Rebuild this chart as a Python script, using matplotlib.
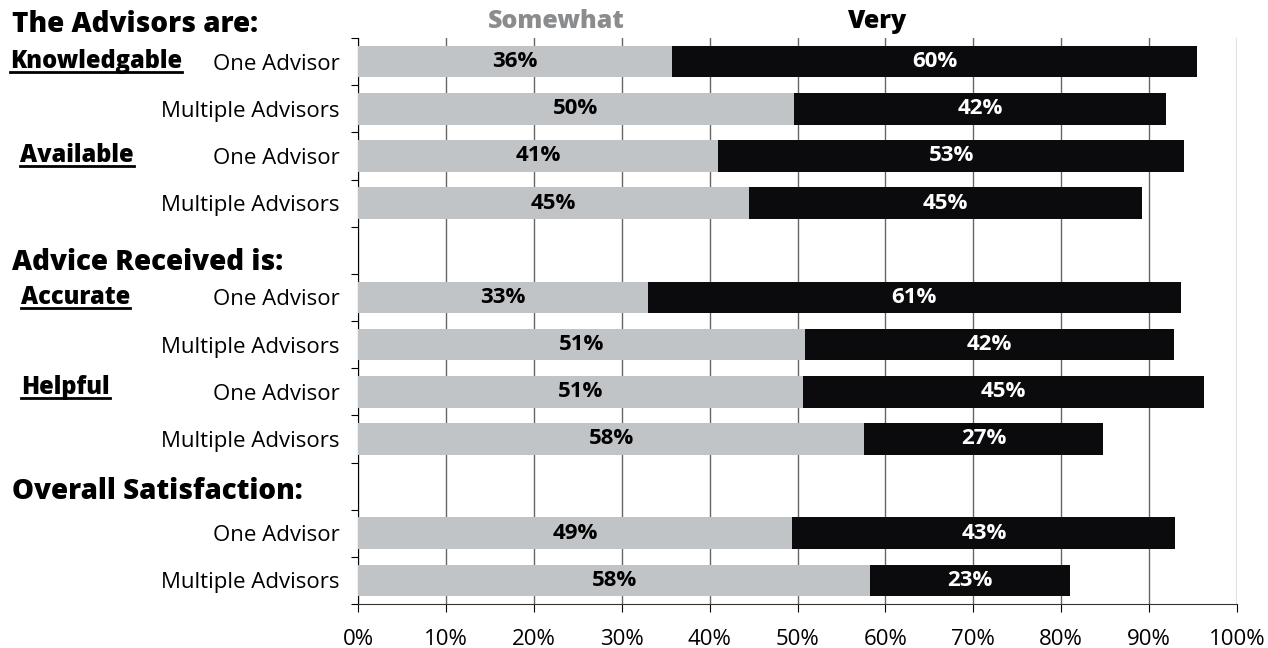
import numpy as np
import matplotlib.pyplot as plt
from matplotlib.transforms import blended_transform_factory

plt.rcParams['font.family'] = ['Open Sans', 'DejaVu Sans']

# Dados (em %)
row_labels = ['One Advisor', 'Multiple Advisors', 'One Advisor', 'Multiple Advisors',
              'One Advisor', 'Multiple Advisors', 'One Advisor', 'Multiple Advisors',
              'One Advisor', 'Multiple Advisors']
row_pos = [0, 1, 2, 3, 5, 6, 7, 8, 10, 11]
somewhat = [35.7, 49.6, 41.0, 44.5, 33.0, 50.8, 50.6, 57.6, 49.4, 58.3]
very = [59.8, 42.3, 53.0, 44.7, 60.6, 42.0, 45.6, 27.2, 43.6, 22.7]
somewhat_lbl = ['36%', '50%', '41%', '45%', '33%', '51%', '51%', '58%', '49%', '58%']
very_lbl = ['60%', '42%', '53%', '45%', '61%', '42%', '45%', '27%', '43%', '23%']

section_titles = ['The Advisors are:', 'Advice Received is:', 'Overall Satisfaction:']
section_y = [-0.78, 4.27, 9.12]
groups = ['Knowledgable', 'Available', 'Accurate', 'Helpful']
groups_y = [0, 2, 5, 6.9]
groups_x = [10, 20, 21, 21]

fig = plt.figure(figsize=(12.68, 6.48), dpi=100)
ax = fig.add_axes([358/1268, 1-604/648, (1237-358)/1268, (604-38)/648])

gray = '#c1c4c6'
dark = '#0b0b0d'
ax.barh(row_pos, somewhat, height=0.67, color=gray, zorder=3)
ax.barh(row_pos, very, left=somewhat, height=0.67, color=dark, zorder=3)

for y, s, v, ls, lv in zip(row_pos, somewhat, very, somewhat_lbl, very_lbl):
    ax.text(s/2, y, ls, ha='center', va='center', fontsize=16, fontweight='bold',
            color='black', zorder=4)
    ax.text(s + v/2, y, lv, ha='center', va='center', fontsize=16, fontweight='bold',
            color='white', zorder=4)

ax.set_xlim(0, 100)
ax.set_ylim(11.5, -0.5)
ax.set_xticks(np.arange(0, 101, 10))
ax.set_xticklabels([f'{i}%' for i in range(0, 101, 10)], fontsize=16)
ax.set_yticks(np.arange(-0.5, 12, 1))
ax.set_yticklabels([])
ax.set_yticks(row_pos, minor=True)
ax.set_yticklabels(row_labels, minor=True, fontsize=16)
ax.tick_params(axis='y', which='minor', length=0, pad=13)
ax.tick_params(axis='y', which='major', length=5, direction='out', color='black')
ax.tick_params(axis='x', length=6, direction='out', pad=12, color='black')
ax.grid(axis='x', color='#666666', linewidth=1, zorder=0)
for side in ['top', 'right']:
    ax.spines[side].set_visible(False)
ax.spines['left'].set_color('black')
ax.spines['bottom'].set_color('#333333')

tr = blended_transform_factory(fig.transFigure, ax.transData)
for t, y in zip(section_titles, section_y):
    ax.text(12/1268, y, t, transform=tr, ha='left', va='center', fontsize=20,
            fontweight='heavy', clip_on=False)
for g, y, x in zip(groups, groups_y, groups_x):
    ax.text(x/1268, y, g, transform=tr, ha='left', va='center', fontsize=17,
            fontweight='heavy', clip_on=False)
    # sublinhado
    txt = ax.texts[-1]
    fig.canvas.draw()
    bb = txt.get_window_extent()
    fig.add_artist(plt.Line2D([bb.x0/1268, bb.x1/1268], [(bb.y0 + 2)/648] * 2,
                              color='black', linewidth=2))

fig.text(556/1268, 1-21/648, 'Somewhat', ha='center', va='center', fontsize=18,
         fontweight='heavy', color='#8a8c8e')
fig.text(877/1268, 1-21/648, 'Very', ha='center', va='center', fontsize=18,
         fontweight='heavy', color='black')

fig.savefig('out.png', dpi=100)
